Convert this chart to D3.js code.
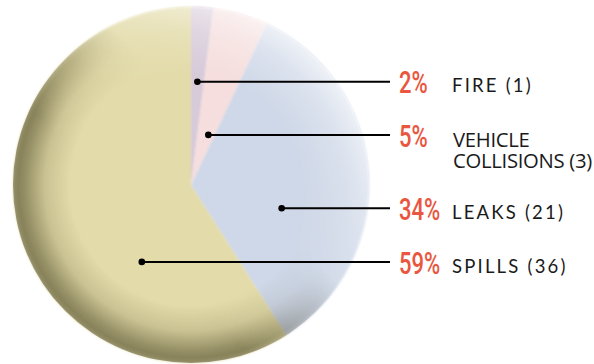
<!DOCTYPE html>
<html>
<head>
<meta charset="utf-8">
<script src="https://cdn.jsdelivr.net/npm/d3@7"></script>
<style>
  html, body { margin: 0; padding: 0; background: #fff; }
  svg { display: block; }
</style>
</head>
<body>
<svg id="chart" width="594" height="364"></svg>
<script>
// Incident causes: share of total and number of incidents
const categories = ["FIRE", "VEHICLE COLLISIONS", "LEAKS", "SPILLS"];
const percents   = [2, 5, 34, 59];
const counts     = [1, 3, 21, 36];

// Slice fills
const sliceColors = ["#d7cad9", "#f5dedd", "#cfd8e8", "#e3dba9"];

// Where each callout dot sits: fraction across its slice, and distance from centre
const calloutAngleFrac = [0.49, 0.66, 0.647, 0.306];
const calloutRadius    = [103.5, 53, 93.6, 91.3];

const cx = 191, cy = 185, R = 178;
const lineEndX = 390, pctX = 399, labelX = 452;

const svg = d3.select("#chart");
const defs = svg.append("defs");

// Rim shading: dark toward the lower left, light toward the upper right
const darkRim = defs.append("radialGradient").attr("id", "darkRim")
  .attr("cx", "50%").attr("cy", "50%").attr("r", "50%");
[[0.68, 0], [0.82, 0.14], [0.93, 0.42], [0.97, 0.5], [1, 0.44]].forEach(([o, a]) =>
  darkRim.append("stop").attr("offset", o).attr("stop-color", "#2e2a0c").attr("stop-opacity", a));

const lightRim = defs.append("radialGradient").attr("id", "lightRim")
  .attr("cx", "50%").attr("cy", "50%").attr("r", "50%");
[[0.6, 0], [0.86, 0.35], [1, 0.65]].forEach(([o, a]) =>
  lightRim.append("stop").attr("offset", o).attr("stop-color", "#ffffff").attr("stop-opacity", a));

const darkSide = defs.append("linearGradient").attr("id", "darkSide")
  .attr("x1", "0.1").attr("y1", "0.85").attr("x2", "0.9").attr("y2", "0.15");
[[0, "#fff"], [0.32, "#fff"], [0.62, "#000"], [1, "#000"]].forEach(([o, c]) =>
  darkSide.append("stop").attr("offset", o).attr("stop-color", c));

const lightSide = defs.append("linearGradient").attr("id", "lightSide")
  .attr("x1", "0").attr("y1", "1").attr("x2", "1").attr("y2", "0");
[[0, "#000"], [0.5, "#000"], [0.85, "#fff"], [1, "#fff"]].forEach(([o, c]) =>
  lightSide.append("stop").attr("offset", o).attr("stop-color", c));

// Mask rectangles are in the pie group's coordinates (origin at the centre)
function sideMask(id, fillId) {
  const m = defs.append("mask").attr("id", id)
    .attr("maskUnits", "userSpaceOnUse")
    .attr("x", -R).attr("y", -R).attr("width", 2 * R).attr("height", 2 * R);
  m.append("rect").attr("x", -R).attr("y", -R)
    .attr("width", 2 * R).attr("height", 2 * R).attr("fill", `url(#${fillId})`);
}
sideMask("darkMask", "darkSide");
sideMask("lightMask", "lightSide");

const soft = defs.append("filter").attr("id", "soft")
  .attr("x", "-5%").attr("y", "-5%").attr("width", "110%").attr("height", "110%");
soft.append("feGaussianBlur").attr("stdDeviation", 0.8);

// Pie
const pie = d3.pie().value(d => d).sort(null);
const arcs = pie(percents);
const arc = d3.arc().innerRadius(0).outerRadius(R);

const g = svg.append("g").attr("transform", `translate(${cx},${cy})`);

g.append("g").attr("filter", "url(#soft)")
  .selectAll("path").data(arcs).join("path")
  .attr("d", arc)
  .attr("fill", (d, i) => sliceColors[i]);

g.append("circle").attr("r", R).attr("fill", "url(#darkRim)").attr("mask", "url(#darkMask)");
g.append("circle").attr("r", R).attr("fill", "url(#lightRim)").attr("mask", "url(#lightMask)");

// Callouts
const dots = arcs.map((d, i) => {
  const a = d.startAngle + (d.endAngle - d.startAngle) * calloutAngleFrac[i];
  const [x, y] = d3.pointRadial(a, calloutRadius[i]);
  return { x: cx + x, y: cy + y, i };
});

const callouts = svg.append("g");
callouts.selectAll("line").data(dots).join("line")
  .attr("x1", d => d.x).attr("y1", d => d.y)
  .attr("x2", lineEndX).attr("y2", d => d.y)
  .attr("stroke", "#000").attr("stroke-width", 2);
callouts.selectAll("circle").data(dots).join("circle")
  .attr("cx", d => d.x).attr("cy", d => d.y).attr("r", 3.3).attr("fill", "#000");

// Percent figures, set in a condensed face
callouts.selectAll("text.pct").data(dots).join("text")
  .attr("class", "pct")
  .attr("transform", d => `translate(${pctX},${d.y + 11.8}) scale(0.7,1)`)
  .attr("font-family", "Roboto, sans-serif")
  .attr("font-weight", 500)
  .attr("font-size", 31.5)
  .attr("fill", "#e9573f")
  .text(d => percents[d.i] + "%");

// Category labels
dots.forEach(d => {
  const name = categories[d.i];
  const count = `(${counts[d.i]})`;
  if (name.includes(" ")) {
    const words = name.split(" ");
    const t = callouts.append("text")
      .attr("font-family", "'Open Sans', sans-serif")
      .attr("font-size", 20.3)
      .attr("letter-spacing", -0.3)
      .attr("fill", "#1a1a1a");
    t.append("tspan").attr("x", labelX + 1).attr("y", d.y + 11.7).text(words[0]);
    t.append("tspan").attr("x", labelX + 1).attr("y", d.y + 32.7).text(words.slice(1).join(" ") + " " + count);
  } else {
    callouts.append("text")
      .attr("x", labelX).attr("y", d.y + 10.8)
      .attr("font-family", "Lato, sans-serif")
      .attr("font-size", 18.5)
      .attr("letter-spacing", 2.2)
      .attr("fill", "#1a1a1a")
      .text(name + " " + count);
  }
});
</script>
</body>
</html>
